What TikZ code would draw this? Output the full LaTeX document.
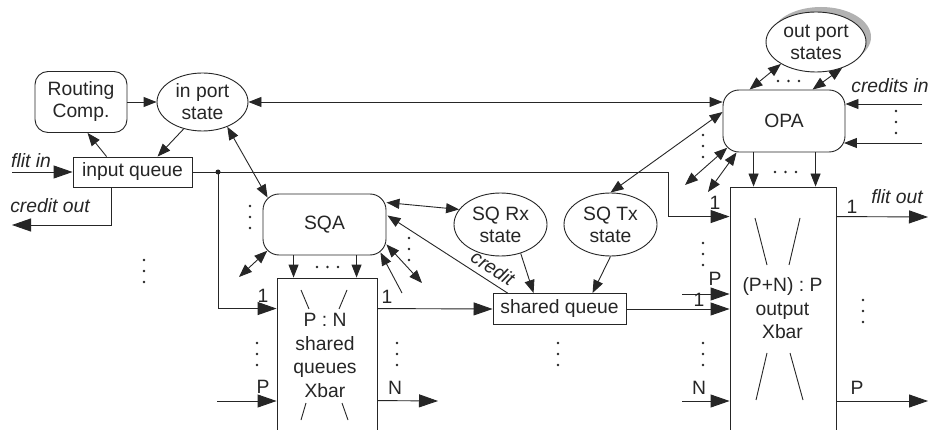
\documentclass[tikz,border=0pt]{standalone}
\usepackage{fontspec}
\setmainfont{Liberation Sans}
\usetikzlibrary{arrows.meta,shapes.geometric,calc}
\tikzset{
  lbl/.style={font=\fontsize{19.3}{22}\selectfont, inner sep=0pt},
  ilbl/.style={font=\fontsize{19.3}{22}\selectfont\itshape, inner sep=0pt},
  xbt/.style={font=\fontsize{19.3}{23.6}\selectfont, inner sep=0pt, align=center},
  rbox/.style={draw, rounded corners=15pt, fill=white, align=center, inner sep=0pt, font=\fontsize{19.3}{22}\selectfont},
  qbox/.style={draw, rectangle, fill=white, inner sep=0pt, font=\fontsize{19.3}{22}\selectfont},
  ell/.style={draw, ellipse, fill=white, inner sep=0pt},
  sarr/.style={-{Triangle[length=13pt,width=10pt]}},
  barr/.style={-{Triangle[length=19pt,width=13pt]}},
  dbl/.style={{Triangle[length=13pt,width=10pt]}-{Triangle[length=13pt,width=10pt]}},
}
\begin{document}
\begin{tikzpicture}[x=1pt,y=-1pt,line width=0.9pt,color=black!85]
\clip (0,0) rectangle (928,430);
\fill[white] (0,0) rectangle (928,430);
% nodes
\node[rbox, minimum width=92pt, minimum height=61pt, rounded corners=13pt] (rc) at (81,102) {Routing\\Comp.};
\node[ell, minimum width=91pt, minimum height=58pt] (ips) at (202.5,102) {};
\node[lbl, align=center] (ipst) at (202.5,102) {in port\\state};
\node[qbox, minimum width=119pt, minimum height=30pt] (iq) at (132.5,172) {input queue};
\node[rbox, minimum width=123pt, minimum height=61pt, rounded corners=16pt] (sqa) at (324.5,224.5) {SQA};
\node[qbox, minimum width=100pt, minimum height=170pt] (sqx) at (327,363) {};
\node[xbt] (sqxt) at (325,355.5) {P : N\\shared\\queues\\Xbar};
\node[ell, minimum width=93pt, minimum height=63pt] (sqrx) at (500.5,224.5) {};
\node[lbl, align=center] (sqrxt) at (500.5,224.5) {SQ Rx\\state};
\node[ell, minimum width=93pt, minimum height=63pt] (sqtx) at (610.5,224.5) {};
\node[lbl, align=center] (sqtxt) at (610.5,224.5) {SQ Tx\\state};
\node[qbox, minimum width=133pt, minimum height=31pt] (sq) at (559.5,309) {shared queue};
\node[rbox, minimum width=122pt, minimum height=62pt, rounded corners=16pt] (opa) at (784,121) {OPA};
\node[ellipse, fill=black!30, draw=none, minimum width=100pt, minimum height=60pt] (opsh) at (821,37) {};
\node[ell, minimum width=100pt, minimum height=60pt] (ops) at (816,42) {};
\node[lbl, align=center] (opst) at (816,42) {out port\\states};
\node[qbox, minimum width=106pt, minimum height=260pt] (oxb) at (783,317) {};
\node[xbt] (oxbt) at (782.5,308.5) {(P+N) : P\\output\\Xbar};
% xbar crossing marks
\draw (301,290) -- (309,309);
\draw (347,290) -- (339,309);
\draw (306,403) -- (301,420);
\draw (342,403) -- (348,420);
\draw (755,218) -- (767,265);
\draw (800,218) -- (789,265);
\draw (767,353) -- (756,400);
\draw (790,353) -- (803,400);
% free ends
\coordinate (fin) at (12,172);
\coordinate (cout) at (12,225);
\coordinate (split) at (218,172);
\coordinate (bend) at (668,172);
\coordinate (sqxP) at (217,401);
\coordinate (sqxN) at (438,401);
\coordinate (oxP) at (682,294);
\coordinate (oxN) at (682,401);
\coordinate (fout) at (928,217);
\coordinate (pout) at (928,401);
\coordinate (ci1) at (922,104);
\coordinate (ci2) at (922,143);
\coordinate (sqaL) at (239,277);
\coordinate (sqaR) at (422,283);
\coordinate (sqaR2) at (402,293);
\coordinate (opaL1) at (685,185);
\coordinate (opaL2) at (708,192);
% connectors
\draw[barr] (fin) -- (iq.west);
\draw[barr] ($(iq.south west)+(39,0)$) |- (cout);
\draw[sarr] ($(iq.north west)+(34,0)$) -- ($(rc.south west)+(53,0)$);
\draw[sarr] (ips.-125) -- ($(iq.north west)+(85,0)$);
\draw[sarr] (rc.east) -- (ips.west);
\draw[dbl] (ips.east) -- (ips.east -| opa.west);
\draw[dbl] (ips.-45) -- ($(sqa.north west)+(5,4)$);
\draw[dbl] ($(sqa.north east)+(0,9)$) -- (sqrx.160);
\draw[sarr] ($(sq.north west)+(15,0)$) -- ($(sqa.east)+(1,-9)$);
\node[ilbl, rotate=-33] (lcred) at (493,268) {credit};
\draw[sarr] (sqrx.-55) -- ($(sq.north west)+(41,0)$);
\draw[sarr] (sqtx.south) -- ($(sq.north west)+(100,0)$);
\draw[dbl] (sqtx.north) -- ($(opa.west)+(0,-9)$);
\draw[dbl] ($(opa.south west)+(4.7,-4.7)$) -- (opaL1);
\draw[dbl] ($(opa.south west)+(14,0)$) -- (opaL2);
\draw[dbl] (ops.-148) -- ($(opa.north west)+(27,0)$);
\draw[dbl] (ops.-45) -- ($(opa.north west)+(90,0)$);
\draw[sarr] (ci1) -- (ci1 -| opa.east);
\draw[sarr] (ci2) -- ($(ci2 -| opa.east)+(-1.5,0)$);
\draw[sarr] ($(opa.south west)+(31,0)$) -- ($(oxb.north west)+(24,0)$);
\draw[sarr] ($(opa.south west)+(93,0)$) -- ($(oxb.north west)+(86,0)$);
\draw[sarr] ($(sqa.south west)+(31,0)$) -- ($(sqx.north west)+(17,0)$);
\draw[sarr] ($(sqa.south west)+(94,0)$) -- ($(sqx.north west)+(80,0)$);
\draw[dbl] ($(sqa.south west)+(4.7,-4.7)$) -- (sqaL);
\draw[dbl] ($(sqa.south east)+(0,-11)$) -- (sqaR);
\draw[sarr] (sqaR2) -- ($(sqa.south east)+(-6,-3)$);
\draw[barr] (iq.east) -- (bend) |- ($(oxb.north west)+(0,30)$);
\fill (split) circle (2.5pt);
\draw[barr] (split) |- ($(sqx.north west)+(0,31)$);
\draw[barr] (sqxP) -- (sqxP -| sqx.west);
\draw[barr] ($(sqx.north east)+(0,31)$) -- (sq.west);
\draw[barr] ($(sqx.north east)+(0,123)$) -- (sqxN);
\draw[barr] (sq.east) -- (sq.east -| oxb.west);
\draw[barr] (oxP) -- (oxP -| oxb.west);
\draw[barr] (oxN) -- (oxN -| oxb.west);
\draw[barr] ($(oxb.north east)+(0,30)$) -- (fout);
\draw[barr] (oxN -| oxb.east) -- (pout);
% labels
\node[ilbl] (lfin) at (31,161) {flit in};
\node[ilbl] (lcout) at (50,206) {credit out};
\node[ilbl] (lci) at (890,86) {credits in};
\node[ilbl] (lfout) at (897,197) {flit out};
\node[lbl] (l1a) at (263,296) {1};
\node[lbl] (l1b) at (387,297) {1};
\node[lbl] (l1c) at (715,203) {1};
\node[lbl] (l1d) at (699,300) {1};
\node[lbl] (l1e) at (852,207) {1};
\node[lbl] (lPa) at (263,387) {P};
\node[lbl] (lPb) at (715,279) {P};
\node[lbl] (lPc) at (857,388) {P};
\node[lbl] (lNa) at (395,388) {N};
\node[lbl] (lNb) at (699,388) {N};
% dots
\foreach \x/\y in {144/260, 250/206, 257/343, 397/343, 409/238, 558/343, 703/135, 703/243, 703/343, 863/300, 896/111}
  \foreach \k in {0,1,2} \fill (\x,\y+11*\k) circle (1.4pt);
\foreach \x/\y in {317/267, 775/172, 778/81}
  \foreach \k in {0,1,2} \fill (\x+10.5*\k,\y) circle (1.4pt);
\end{tikzpicture}
\end{document}
